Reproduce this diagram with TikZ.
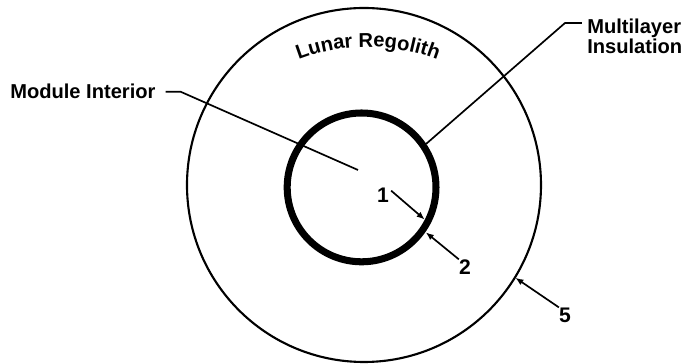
\documentclass[tikz,border=0pt]{standalone}
\usepackage{fontspec}
\setmainfont{Liberation Sans}
\usetikzlibrary{arrows.meta,positioning,calc,decorations.text}
\tikzset{
  lbl/.style={font=\fontsize{14.3}{14}\selectfont\bfseries,inner sep=0pt,align=left},
  num/.style={font=\fontsize{15}{14}\selectfont\bfseries,inner sep=0pt},
  lead/.style={line width=1.2pt},
  ptr/.style={lead,-{Latex[length=2mm,width=1.6mm]}},
}
\newcommand{\lrfont}{\fontsize{14.3}{14}\selectfont\bfseries}

\begin{document}
\begin{tikzpicture}
  \useasboundingbox (-9.1,-4.475) rectangle (7.95,4.625);
  \coordinate (oc) at (0,0);
  \coordinate (ic) at (-0.06,-0.06);
  \draw[line width=1.5pt] (oc) circle[radius=4.425];
  \draw[line width=5pt] (ic) circle[radius=1.86];

  \path[decorate,decoration={text along path,text align=center,
        text={|\lrfont|Lunar Regolith}}]
    ([shift={(0.1,-1.35)}]130:4.8) arc[start angle=130,end angle=50,radius=4.8];

  \node[lbl,anchor=west] (mitxt) at (-8.85,2.33) {Module Interior};
  \node[lbl,anchor=west] (mlitxt) at (5.575,3.72) {Multilayer\\Insulation};
  \node[num] (n1) at (0.475,-0.25) {1};
  \node[num] (n2) at (2.525,-2.05) {2};
  \node[num] (n5) at (5.025,-3.25) {5};

  \coordinate (mi) at (-0.15,0.375);
  \coordinate (mlia) at (5.45,4.05);
  \coordinate (mlib) at ([shift={(ic)}]34:1.95);
  \coordinate (t1) at ([shift={(ic)}]-27:1.77);
  \coordinate (t2) at ([shift={(ic)}]-35:1.96);
  \coordinate (t5) at ([shift={(oc)}]-31.5:4.44);

  \draw[lead] ([xshift=0.25cm]mitxt.east) -- ++(0.375,0) -- (mi);
  \draw[lead] (mlia) -- ++(-0.425,0) -- (mlib);
  \draw[ptr] ([shift={(0.05,-0.08)}]n1.north east) -- (t1);
  \draw[ptr] (n2.north west) -- (t2);
  \draw[ptr] (n5.north west) -- (t5);
\end{tikzpicture}
\end{document}
